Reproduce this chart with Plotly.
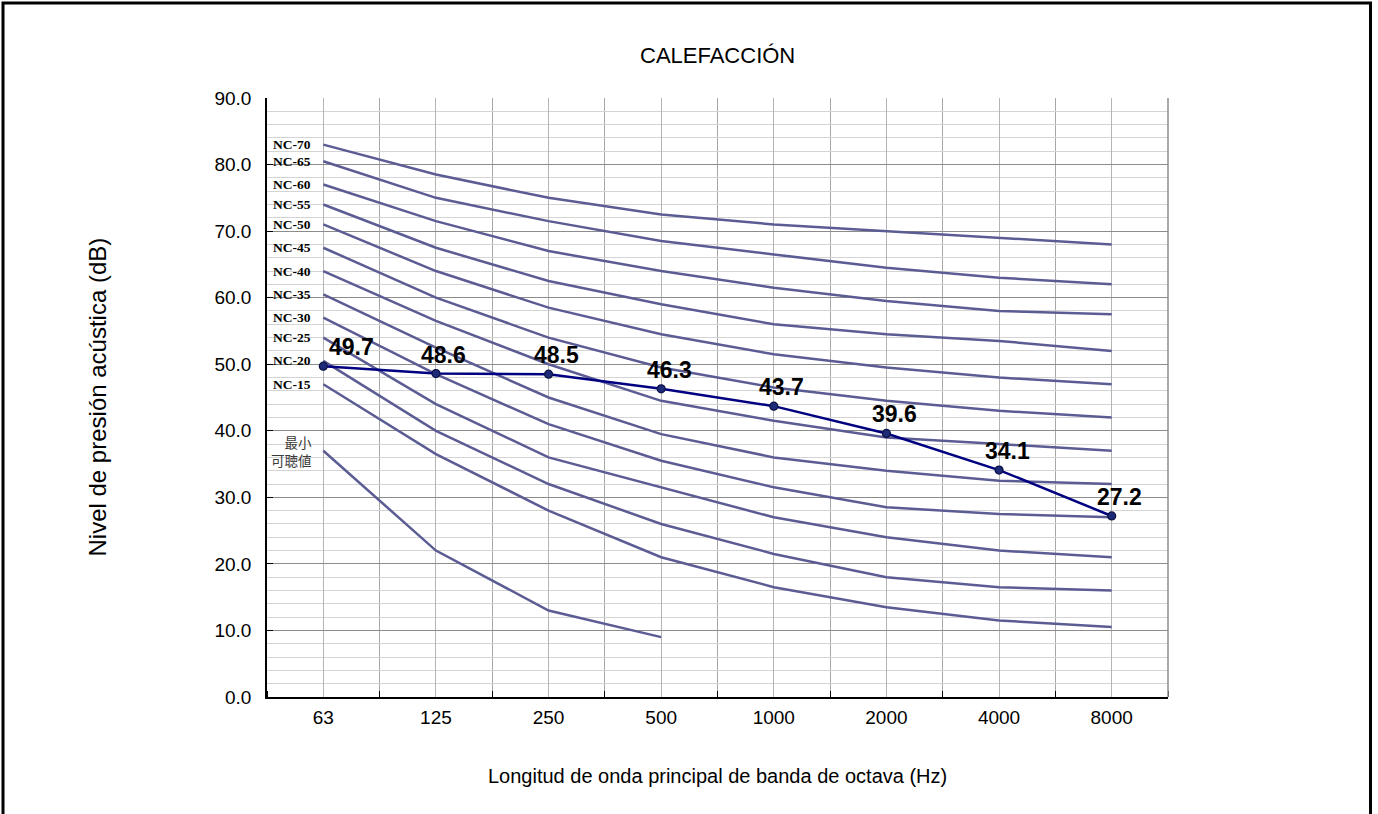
import plotly.graph_objects as go

# ---- data ----
bands = ["63", "125", "250", "500", "1000", "2000", "4000", "8000"]
nc_names = ["NC-70", "NC-65", "NC-60", "NC-55", "NC-50", "NC-45",
            "NC-40", "NC-35", "NC-30", "NC-25", "NC-20", "NC-15"]
nc70 = [83, 78.5, 75, 72.5, 71, 70, 69, 68]
nc65 = [80.5, 75, 71.5, 68.5, 66.5, 64.5, 63, 62]
nc60 = [77, 71.5, 67, 64, 61.5, 59.5, 58, 57.5]
nc55 = [74, 67.5, 62.5, 59, 56, 54.5, 53.5, 52]
nc50 = [71, 64, 58.5, 54.5, 51.5, 49.5, 48, 47]
nc45 = [67.5, 60, 54, 49.5, 46.5, 44.5, 43, 42]
nc40 = [64, 56.5, 50, 44.5, 41.5, 39, 38, 37]
nc35 = [60.5, 52.5, 45, 39.5, 36, 34, 32.5, 32]
nc30 = [57, 48.5, 41, 35.5, 31.5, 28.5, 27.5, 27]
nc25 = [54, 44, 36, 31.5, 27, 24, 22, 21]
nc20 = [50.5, 40, 32, 26, 21.5, 18, 16.5, 16]
nc15 = [47, 36.5, 28, 21, 16.5, 13.5, 11.5, 10.5]
nc_curves = [nc70, nc65, nc60, nc55, nc50, nc45, nc40, nc35, nc30, nc25, nc20, nc15]
threshold_bands = ["63", "125", "250", "500"]
threshold = [37, 22, 13, 9]
threshold_label = "最小<br>可聴値"
measured = [49.7, 48.6, 48.5, 46.3, 43.7, 39.6, 34.1, 27.2]
title_text = "CALEFACCIÓN"
y_title = "Nivel de presión acústica (dB)"
x_title = "Longitud de onda principal de banda de octava (Hz)"

# ---- layout geometry (pixels) ----
W, H = 1378, 814
L, R, T, B = 267, 1168, 98, 697
pw, ph = R - L, B - T

def px_x(p):
    return (p - L) / pw

def px_y(p):
    return (B - p) / ph

FONT = "Liberation Sans, Arial, sans-serif"
NC_COLOR = "#5c5c94"
DATA_COLOR = "#000080"

xpos = list(range(len(bands)))
fig = go.Figure()

for name, vals in zip(nc_names, nc_curves):
    fig.add_trace(go.Scatter(x=xpos, y=vals, mode="lines", name=name,
                             line=dict(color=NC_COLOR, width=2.5),
                             hoverinfo="name+y", showlegend=False))

fig.add_trace(go.Scatter(x=[bands.index(b) for b in threshold_bands], y=threshold,
                         mode="lines", name="最小可聴値",
                         line=dict(color=NC_COLOR, width=2.5), showlegend=False))

fig.add_trace(go.Scatter(x=xpos, y=measured, mode="lines+markers", name=title_text,
                         line=dict(color=DATA_COLOR, width=2.5),
                         marker=dict(size=8, color="#1c2a78",
                                     line=dict(color="#0b1246", width=1.2)),
                         showlegend=False))

annotations = []
for i, v in enumerate(measured):
    annotations.append(dict(x=i, y=v, xref="x", yref="y", text=f"{v:.1f}",
                            showarrow=False, xanchor="center", yanchor="middle",
                            xshift=28 if i == 0 else 8, yshift=19,
                            font=dict(family=FONT, size=23, color="black", weight="bold")))

for name, vals in zip(nc_names, nc_curves):
    annotations.append(dict(x=px_x(313), y=vals[0], xref="paper", yref="y",
                            text=f"<b>{name}</b>", showarrow=False,
                            xanchor="right", yanchor="middle",
                            font=dict(family="Liberation Serif, DejaVu Serif, serif",
                                      size=13.5, color="black")))

annotations.append(dict(x=px_x(314), y=threshold[0], xref="paper", yref="y",
                        text=threshold_label, showarrow=False, align="right",
                        xanchor="right", yanchor="middle",
                        font=dict(family="Noto Sans CJK JP", size=13.5, color="#3a3a3a")))

annotations.append(dict(x=0.5, y=px_y(55), xref="paper", yref="paper", text=title_text,
                        showarrow=False, xanchor="center", yanchor="middle",
                        font=dict(family=FONT, size=22, color="black")))
annotations.append(dict(x=px_x(97), y=0.5, xref="paper", yref="paper", text=y_title,
                        showarrow=False, textangle=-90, xanchor="center", yanchor="middle",
                        font=dict(family=FONT, size=24, color="black")))
annotations.append(dict(x=0.5, y=px_y(776), xref="paper", yref="paper", text=x_title,
                        showarrow=False, xanchor="center", yanchor="middle",
                        font=dict(family=FONT, size=20, color="black")))

shapes = [
    # outer frame
    dict(type="rect", xref="paper", yref="paper",
         x0=px_x(3), x1=px_x(1370.5), y0=px_y(830), y1=px_y(3),
         line=dict(color="black", width=3), layer="above"),
    # right plot border
    dict(type="line", xref="paper", yref="paper", x0=1, x1=1, y0=0, y1=1,
         line=dict(color="#8c8c8c", width=1.5)),
]

fig.update_layout(
    width=W, height=H, autosize=False,
    margin=dict(l=L, r=W - R, t=T, b=H - B, pad=0),
    paper_bgcolor="white", plot_bgcolor="white",
    font=dict(family=FONT, size=19, color="black"),
    annotations=annotations, shapes=shapes,
    showlegend=False,
)

fig.update_xaxes(
    range=[-0.5, len(bands) - 0.5], tickvals=xpos, ticktext=bands,
    ticks="", showline=True, linecolor="black", linewidth=1.5,
    showgrid=True, gridcolor="#b4b4b4", gridwidth=1, zeroline=False,
    tickfont=dict(family=FONT, size=19), ticklabelstandoff=2,
    minor=dict(tick0=-0.5, dtick=1, showgrid=True, gridcolor="#a6a6a6",
               gridwidth=1, ticks="inside", ticklen=6, tickcolor="black", tickwidth=1),
    fixedrange=True,
)
fig.update_yaxes(
    range=[0, 90], dtick=10, tick0=0, tickformat=".1f",
    ticks="inside", ticklen=6, tickcolor="black", tickwidth=1,
    showline=True, linecolor="black", linewidth=1.5,
    showgrid=True, gridcolor="#8c8c8c", gridwidth=1, zeroline=False,
    tickfont=dict(family=FONT, size=19), ticklabelstandoff=10,
    minor=dict(dtick=2, showgrid=True, gridcolor="#d4d4d4", gridwidth=1.2),
    fixedrange=True,
)

fig.write_html("out.html")
